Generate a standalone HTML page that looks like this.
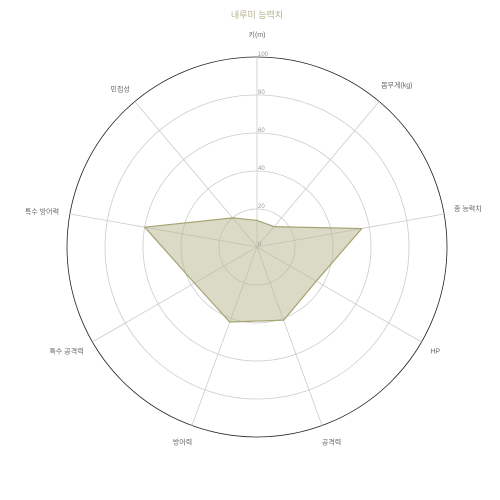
<!DOCTYPE html>
<html><head><meta charset="utf-8"><style>
body{margin:0;background:#fff}
svg{display:block;font-family:"Liberation Sans","Noto Sans CJK KR",sans-serif}
</style></head><body>
<svg id="chart" width="500" height="500" viewBox="0 0 500 500">
<text x="257" y="18" text-anchor="middle" font-size="9" fill="#b3b38a">내루미 능력치</text>
<g id="grid"></g><g id="series"></g><g id="labels"></g>
</svg>
<script>
const categories=["키(m)","몸무게(kg)","종 능력치","HP","공격력","방어력","특수 공격력","특수 방어력","민첩성"];
const values=[14,14,56,36,41,42,38,60,20];
const ticks=[0,20,40,60,80,100];
const cx=257,cy=247,R=190,maxV=100;
const ns="http://www.w3.org/2000/svg";
function rScale(v){return v/maxV*R;}
function pt(i,v){const a=i*2*Math.PI/categories.length;return [cx+rScale(v)*Math.sin(a),cy-rScale(v)*Math.cos(a)];}
function mk(tag,attrs,parent){const e=document.createElementNS(ns,tag);for(const k in attrs)e.setAttribute(k,attrs[k]);parent.appendChild(e);return e;}
const grid=document.getElementById('grid'),ser=document.getElementById('series'),lab=document.getElementById('labels');
ticks.forEach(t=>{if(t===0)return;
 const c=mk('circle',{cx:cx,cy:cy,r:rScale(t),fill:'none',stroke:t===100?'#222':'#ccc','stroke-width':0.8},grid);
 
 
});
categories.forEach((c,i)=>{const p=pt(i,maxV);
 const l=mk('line',{x1:cx,y1:cy,x2:p[0],y2:p[1],stroke:'#ccc','stroke-width':0.8},grid);
 
 
 const q=pt(i,maxV+9);const a=i*360/categories.length;
 let anchor=a===0||a===180?'middle':(a<180?'start':'end');
 let dx=a>0&&a<180?-6:(a>180?6:0),dy=3;
 if(a===0)dy=-3;
 if(a===40){dx=-9;dy=-1;}
 if(a===80){dx=-7;dy=0;}
 const t=mk('text',{x:q[0]+dx,y:q[1]+dy,'text-anchor':anchor,'font-size':7,fill:'#666'},lab);
 t.textContent=c;
 
 
});
ticks.forEach(t=>{const tx=mk('text',{x:cx+1,y:cy-rScale(t)-1,'font-size':6,fill:'#999'},lab);
 tx.textContent=t;
 
 
});
const poly=mk('polygon',{points:values.map((v,i)=>pt(i,v).join(',')).join(' '),fill:'#b5b590','fill-opacity':0.5,stroke:'#a4a474','stroke-width':1.2},ser);


</script>
</body></html>
